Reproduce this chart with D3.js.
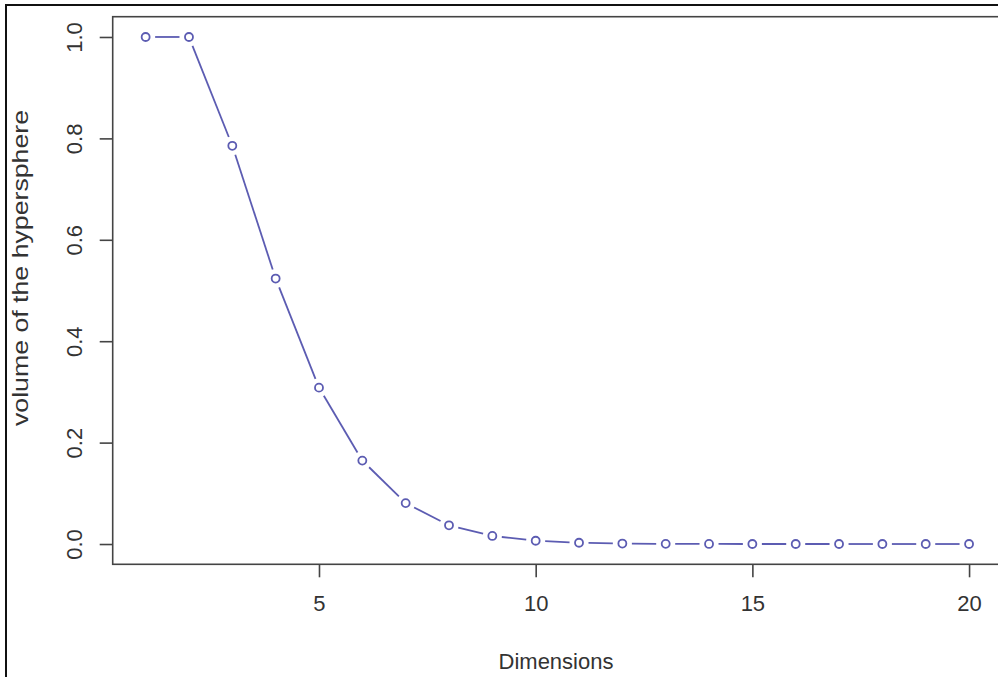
<!DOCTYPE html>
<html>
<head>
<meta charset="utf-8">
<script src="https://cdn.jsdelivr.net/npm/d3@7"></script>
<style>
html,body{margin:0;padding:0;background:#fff;}
svg{display:block;}
text{font-family:"Liberation Sans",Arial,sans-serif;fill:#333;}
</style>
</head>
<body>
<svg id="chart" width="998" height="677"></svg>
<script>
// Data
const dimensions = [1,2,3,4,5,6,7,8,9,10,11,12,13,14,15,16,17,18,19,20];
const volume = [1.0, 1.0, 0.7854, 0.5236, 0.3084, 0.1645, 0.0807, 0.0369, 0.0159, 0.0064,
                0.0025, 0.0009, 0.0003, 0.0001, 0.00004, 0.00001, 0.0, 0.0, 0.0, 0.0];
const xTicks = [5, 10, 15, 20];
const yTicks = [0.0, 0.2, 0.4, 0.6, 0.8, 1.0];
const xLabel = "Dimensions";
const yLabel = "volume of the hypersphere";

const svg = d3.select("#chart");
const fs = 22;
const col = "#5c5cb2";

const x = d3.scaleLinear().domain([0.24, 20.76]).range([112.7, 1002]);
const y = d3.scaleLinear().domain([-0.04, 1.04]).range([564.3, 16.7]);

// outer border
svg.append("rect").attr("x", 6).attr("y", 5).attr("width", 1100).attr("height", 800)
  .attr("fill", "none").attr("stroke", "#111").attr("stroke-width", 2);

// plot box
svg.append("rect").attr("x", x.range()[0]).attr("y", y.range()[1])
  .attr("width", x.range()[1] - x.range()[0]).attr("height", y.range()[0] - y.range()[1])
  .attr("fill", "none").attr("stroke", "#444").attr("stroke-width", 1.6);

// x axis
const xAxis = svg.append("g").attr("transform", `translate(0,${y.range()[0]})`)
  .call(d3.axisBottom(x).tickValues(xTicks).tickSize(13).tickPadding(18).tickFormat(d3.format("d")));
xAxis.select(".domain").remove();
xAxis.selectAll(".tick line").attr("stroke", "#444").attr("stroke-width", 1.6);
xAxis.selectAll(".tick text").attr("font-size", fs).attr("fill", "#333")
  .attr("font-family", "Liberation Sans, Arial, sans-serif");

// y axis
const yAxis = svg.append("g").attr("transform", `translate(${x.range()[0]},0)`)
  .call(d3.axisLeft(y).tickValues(yTicks).tickSize(13).tickFormat(d3.format(".1f")));
yAxis.select(".domain").remove();
yAxis.selectAll(".tick line").attr("stroke", "#444").attr("stroke-width", 1.6);
yAxis.selectAll(".tick text")
  .attr("font-size", fs).attr("fill", "#333")
  .attr("font-family", "Liberation Sans, Arial, sans-serif")
  .attr("x", null).attr("dy", null)
  .attr("text-anchor", "middle")
  .attr("transform", "translate(-31,0) rotate(-90)");

// axis labels
svg.append("text").attr("x", 556).attr("y", 669).attr("text-anchor", "middle")
  .attr("font-size", fs).text(xLabel);
svg.append("text").attr("transform", "translate(28,268) rotate(-90)")
  .attr("text-anchor", "middle").attr("font-size", fs)
  .attr("textLength", 316).attr("lengthAdjust", "spacingAndGlyphs").text(yLabel);

// line segments with gaps (type = "b")
const gap = 9.5;
const pts = dimensions.map((d, i) => [x(d), y(volume[i])]);
const segs = [];
for (let i = 0; i < pts.length - 1; i++) {
  const [x0, y0] = pts[i], [x1, y1] = pts[i + 1];
  const len = Math.hypot(x1 - x0, y1 - y0);
  if (len <= 2 * gap) continue;
  const ux = (x1 - x0) / len, uy = (y1 - y0) / len;
  segs.push([x0 + ux * gap, y0 + uy * gap, x1 - ux * gap, y1 - uy * gap]);
}
svg.append("g").selectAll("line").data(segs).join("line")
  .attr("x1", d => d[0]).attr("y1", d => d[1]).attr("x2", d => d[2]).attr("y2", d => d[3])
  .attr("stroke", col).attr("stroke-width", 1.8);

svg.append("g").selectAll("circle").data(dimensions).join("circle")
  .attr("cx", d => x(d)).attr("cy", (d, i) => y(volume[i])).attr("r", 4)
  .attr("fill", "none").attr("stroke", col).attr("stroke-width", 1.8);
</script>
</body>
</html>
